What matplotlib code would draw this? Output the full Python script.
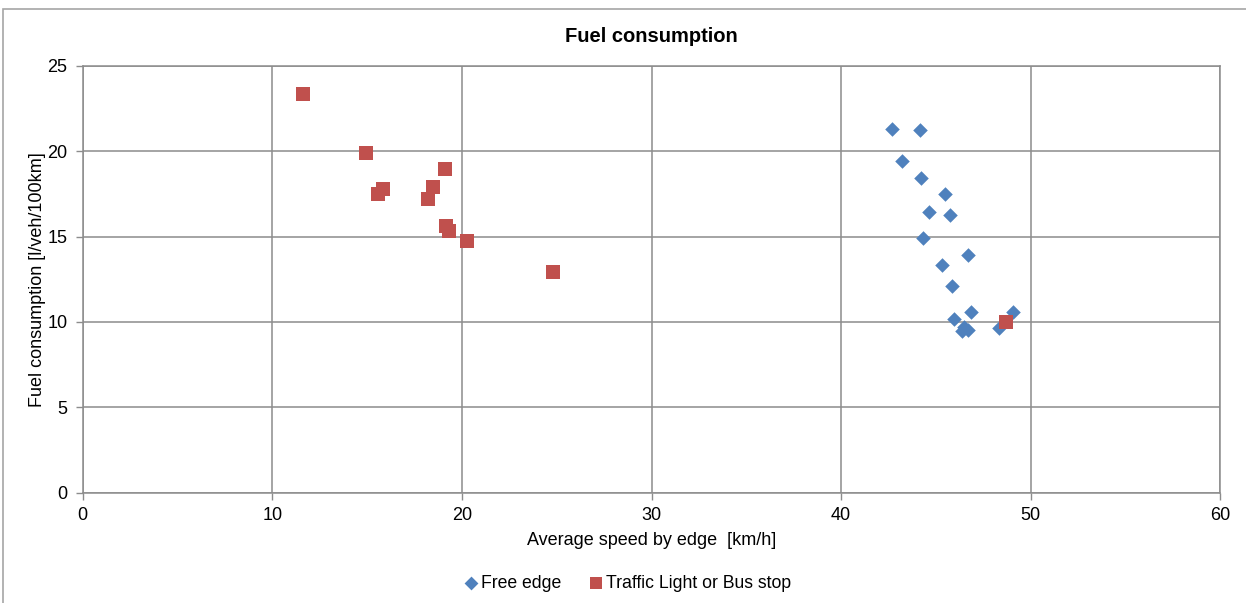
import matplotlib
matplotlib.use("Agg")
import matplotlib.pyplot as plt
from matplotlib.patches import Rectangle

plt.rcParams['font.family'] = ['Liberation Sans', 'DejaVu Sans']

# Free edge (blue diamonds)
free_speed = [42.69, 44.18, 43.19, 44.21, 45.50, 44.64, 45.73, 44.30, 46.71,
              45.30, 45.83, 46.87, 45.95, 46.36, 46.48, 46.68, 48.31, 49.08]
free_fuel = [21.28, 21.22, 19.44, 18.43, 17.51, 16.45, 16.24, 14.93, 13.92,
             13.31, 12.10, 10.56, 10.17, 9.47, 9.68, 9.53, 9.62, 10.60]

# Traffic Light or Bus stop (red squares)
tl_speed = [11.60, 14.93, 19.11, 15.82, 15.57, 18.49, 18.20, 19.18, 19.34,
            20.25, 24.79, 48.68]
tl_fuel = [23.32, 19.91, 18.95, 17.80, 17.51, 17.88, 17.21, 15.63, 15.32,
           14.74, 12.90, 9.97]

x_ticks = [0, 10, 20, 30, 40, 50, 60]
y_ticks = [0, 5, 10, 15, 20, 25]

grid_col = '#8c8c8c'

fig = plt.figure(figsize=(12.46, 6.03), dpi=100)
# outer chart border (left / top visible)
fig.patches.append(Rectangle((3 / 1246, -0.05), 1.1, (603 - 9) / 603 + 0.05,
                             transform=fig.transFigure, fill=False,
                             edgecolor='#a6a6a6', linewidth=1.2))

ax = fig.add_axes([0.0664, 0.1829, 0.9130, 0.7081])

ax.scatter(free_speed, free_fuel, marker='D', s=55, color='#4F81BD',
           label='Free edge', zorder=3, linewidths=0)
ax.scatter(tl_speed, tl_fuel, marker='s', s=90, color='#C0504D',
           label='Traffic Light or Bus stop', zorder=3, linewidths=0)

ax.set_xlim(0, 60)
ax.set_ylim(0, 25)
ax.set_xticks(x_ticks)
ax.set_yticks(y_ticks)
ax.grid(True, color=grid_col, linewidth=1.1)
ax.set_axisbelow(True)
for s in ax.spines.values():
    s.set_color(grid_col)
    s.set_linewidth(1.1)
ax.tick_params(axis='both', colors=grid_col, labelcolor='black',
               labelsize=13, length=5, width=1)
ax.tick_params(axis='x', pad=5)
ax.tick_params(axis='y', pad=6)

ax.set_title('Fuel consumption', fontsize=14.5, fontweight='bold', pad=17)
ax.set_xlabel('Average speed by edge  [km/h]', fontsize=13, labelpad=6)
ax.set_ylabel('Fuel consumption [l/veh/100km]', fontsize=13, labelpad=1)

fig.legend(loc='center', bbox_to_anchor=(0.504, 0.033), ncol=2, frameon=False,
           fontsize=12.7, handlelength=0.7, handletextpad=0.25,
           columnspacing=1.6, markerscale=0.95)

fig.savefig('out.png', dpi=100)
